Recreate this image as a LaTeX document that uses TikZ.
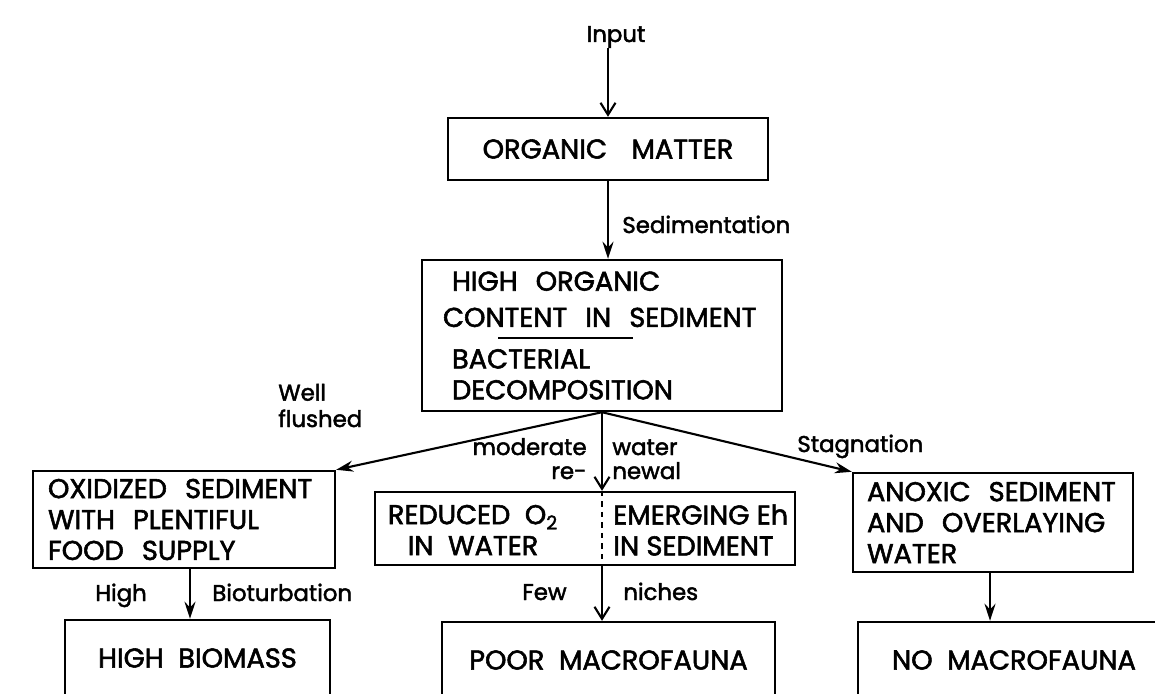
\documentclass[tikz,border=0pt]{standalone}
\usepackage{fontspec}
\setmainfont{Poppins}[FakeBold=2]
\usetikzlibrary{arrows.meta,positioning,calc}
\newcommand{\lft}[1]{\makebox[0pt][l]{#1}}

\begin{document}
\begin{tikzpicture}[x=0.02cm,y=-0.02cm,font=\fontsize{15.5}{17.6}\selectfont,
  box/.style={draw,line width=1.4pt,inner sep=0pt},
  lbl/.style={inner sep=0pt,font=\fontsize{13}{15}\selectfont},
  arr/.style={-{Stealth[length=3.4mm,width=2.2mm]},line width=1.2pt},
  varr/.style={-{Straight Barb[length=2.4mm,width=3mm]},line width=1.2pt}]
  \useasboundingbox (0,0) rectangle (1155,693);
  \clip (0,0) rectangle (1155,693);
  \fill[white] (0,0) rectangle (1155,693);
  % Top of the chain
  \node[lbl] (input) at (616,37) {Input};
  \node[box,minimum width=6.4cm,minimum height=1.24cm] (om) at (608,149) {ORGANIC\hspace{0.9em}MATTER};
  \node[box,minimum height=3.02cm,text width=6.0cm,inner xsep=0.6cm,align=left] (hoc) at (602,335.5)
    {\lft{HIGH\ \ ORGANIC}\\[3pt]\lft{\hspace*{-0.18cm}CONTENT\ \ IN\ \ SEDIMENT}\\[6pt]\lft{BACTERIAL}\\\lft{DECOMPOSITION}};
  \draw[line width=1.4pt] (498,338) -- (633,338);
  \draw[varr] (om.north |- input.south) -- (om.north);
  \draw[arr] (om.south) -- (om.south |- hoc.north);
  \node[lbl,anchor=base west] (sed) at (622,233) {Sedimentation};
  % Three branches
  \node[box,minimum height=1.94cm,text width=5.44cm,inner xsep=0.3cm,align=left] (oxs) at (184,519.5)
    {\lft{OXIDIZED\ \ SEDIMENT}\\\lft{WITH\ \ PLENTIFUL}\\\lft{FOOD\ \ SUPPLY}};
  \node[box,minimum width=8.4cm,minimum height=1.46cm] (mid) at (585,528.5) {};
  \node[inner sep=0pt,align=center] (redo) at (473,530) {REDUCED\ \ O\textsubscript{2}\\IN\ \ WATER};
  \node[inner sep=0pt,align=left,anchor=west] (emeh) at (613,530) {EMERGING Eh\\IN SEDIMENT};
  \draw[dashed,line width=1.2pt] (hoc.south |- mid.north) -- (hoc.south |- mid.south);
  \node[box,minimum height=1.98cm,text width=5.04cm,inner xsep=0.28cm,align=left] (anx) at (993,522.5)
    {\lft{ANOXIC\ \ SEDIMENT}\\\lft{AND\ \ OVERLAYING}\\\lft{WATER}};
  \draw[arr] (hoc.south) -- (oxs.north east);
  \draw[varr] (hoc.south) -- (hoc.south |- mid.north);
  \draw[arr] (hoc.south) -- (anx.north west);
  \node[lbl,anchor=base west,align=left] (well) at (278,427) {Well\\flushed};
  \node[lbl,anchor=base east] (mod) at (587,455) {moderate};
  \node[lbl,anchor=base east] (re) at (587,479) {re-};
  \node[lbl,anchor=base west] (wat) at (612,455) {water};
  \node[lbl,anchor=base west] (new) at (612,479) {newal};
  \node[lbl,anchor=base west] (stag) at (797,452) {Stagnation};
  % Bottom row
  \node[box,minimum width=5.3cm,minimum height=1.52cm] (hbm) at (197.5,658) {HIGH\ \ BIOMASS};
  \node[box,minimum width=6.66cm,minimum height=1.52cm] (pmf) at (608.5,660) {POOR\ \ MACROFAUNA};
  \node[box,minimum width=6.24cm,minimum height=1.52cm] (nomac) at (1014,660) {NO\ \ MACROFAUNA};
  \draw[arr] ([xshift=0.12cm]oxs.south) -- ([xshift=0.12cm]oxs.south |- hbm.north);
  \draw[varr] (hoc.south |- mid.south) -- (hoc.south |- pmf.north);
  \draw[arr] ([xshift=-0.06cm]anx.south) -- ([xshift=-0.06cm]anx.south |- nomac.north);
  \node[lbl,anchor=base] (high) at (121,601) {High};
  \node[lbl,anchor=base west] (biot) at (212,601) {Bioturbation};
  \node[lbl,anchor=base east] (few) at (567,600) {Few};
  \node[lbl,anchor=base west] (nich) at (623,600) {niches};
\end{tikzpicture}
\end{document}
